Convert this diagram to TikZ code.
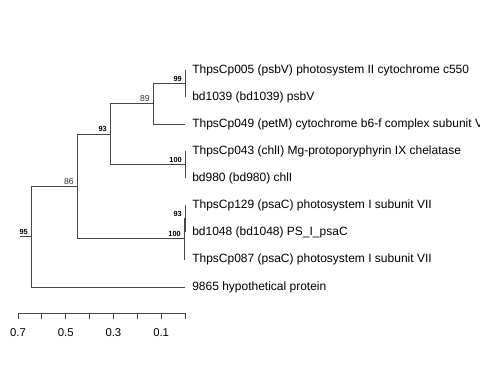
\documentclass[tikz,border=0pt]{standalone}
\usepackage{fontspec}
\setmainfont{Liberation Sans}
\begin{document}
\begin{tikzpicture}[x=0.75pt, y=-0.75pt,
        branch/.style={draw=black!72, line width=0.6pt},
        tiplabel/.style={anchor=west, inner xsep=5.25pt, inner ysep=0pt, font=\fontsize{9}{10}\selectfont},
        support/.style={anchor=south east, inner xsep=2.25pt, inner ysep=1.5pt, text=black, font=\fontsize{5.5}{6}\selectfont\bfseries},
        weaksupport/.style={support, font=\fontsize{6.5}{7}\selectfont, text=black!80},
        axislabel/.style={font=\fontsize{8.5}{10}\selectfont, inner sep=0pt}
    ]
        \useasboundingbox (0,0) rectangle (480,384);

        % Tips
        \node[tiplabel] (psbV005) at (185,70) {ThpsCp005 (psbV) photosystem II cytochrome c550};
        \node[tiplabel] (psbV1039) at (185,97) {bd1039 (bd1039) psbV};
        \node[tiplabel] (petM049) at (185,124) {ThpsCp049 (petM) cytochrome b6-f complex subunit V};
        \node[tiplabel] (chlI043) at (185,151) {ThpsCp043 (chlI) Mg-protoporyphyrin IX chelatase};
        \node[tiplabel] (chlI980) at (185,178) {bd980 (bd980) chlI};
        \node[tiplabel] (psaC129) at (185,205) {ThpsCp129 (psaC) photosystem I subunit VII};
        \node[tiplabel] (psaC1048) at (185,232) {bd1048 (bd1048) PS\_I\_psaC};
        \node[tiplabel] (psaC087) at (185,259) {ThpsCp087 (psaC) photosystem I subunit VII};
        \node[tiplabel] (hyp9865) at (185,287) {9865 hypothetical protein};

        % Internal nodes
        \coordinate (n99) at (185,83.5);
        \coordinate (n89) at (153,103.75);
        \coordinate (n100a) at (185,164.5);
        \coordinate (n93a) at (110,134);
        \coordinate (n93b) at (185,218.5);
        \coordinate (n100b) at (184,238.75);
        \coordinate (n86) at (77,186.4);
        \coordinate (n95) at (31,236.7);
        \coordinate (stub) at (20,236.7);

        % Branches
        \draw[branch] (n99) |- (psbV005.west);
        \draw[branch] (n99) |- (psbV1039.west);
        \draw[branch] (n89) |- (n99);
        \draw[branch] (n89) |- (petM049.west);
        \draw[branch] (n100a) |- (chlI043.west);
        \draw[branch] (n100a) |- (chlI980.west);
        \draw[branch] (n93a) |- (n89);
        \draw[branch] (n93a) |- (n100a);
        \draw[branch] (n93b) |- (psaC129.west);
        \draw[branch] (n93b) |- (psaC1048.west);
        \draw[branch] (n100b) |- (n93b);
        \draw[branch] (n100b) |- (psaC087.west);
        \draw[branch] (n86) |- (n93a);
        \draw[branch] (n86) |- (n100b);
        \draw[branch] (n95) |- (n86);
        \draw[branch] (n95) |- (hyp9865.west);
        \draw[branch] (stub) -- (n95);

        % Bootstrap values
        \node[support] (s99) at (n99) {99};
        \node[weaksupport] (s89) at (n89) {89};
        \node[support] (s100a) at (n100a) {100};
        \node[support] (s93a) at (n93a) {93};
        \node[support] (s93b) at (n93b) {93};
        \node[support] (s100b) at (n100b) {100};
        \node[weaksupport] (s86) at (n86) {86};
        \node[support] (s95) at (n95) {95};

        % Scale
        \draw[branch] (18,313) -- (185,313);
        \foreach \k in {0,...,7}
            \draw[branch] ({185-\k*23.86},313) -- ++(0,6);
        \foreach \v in {0.1,0.3,0.5,0.7}
            \node[axislabel] at ({185-\v*238.6},333) {\v};
    \end{tikzpicture}
\end{document}
